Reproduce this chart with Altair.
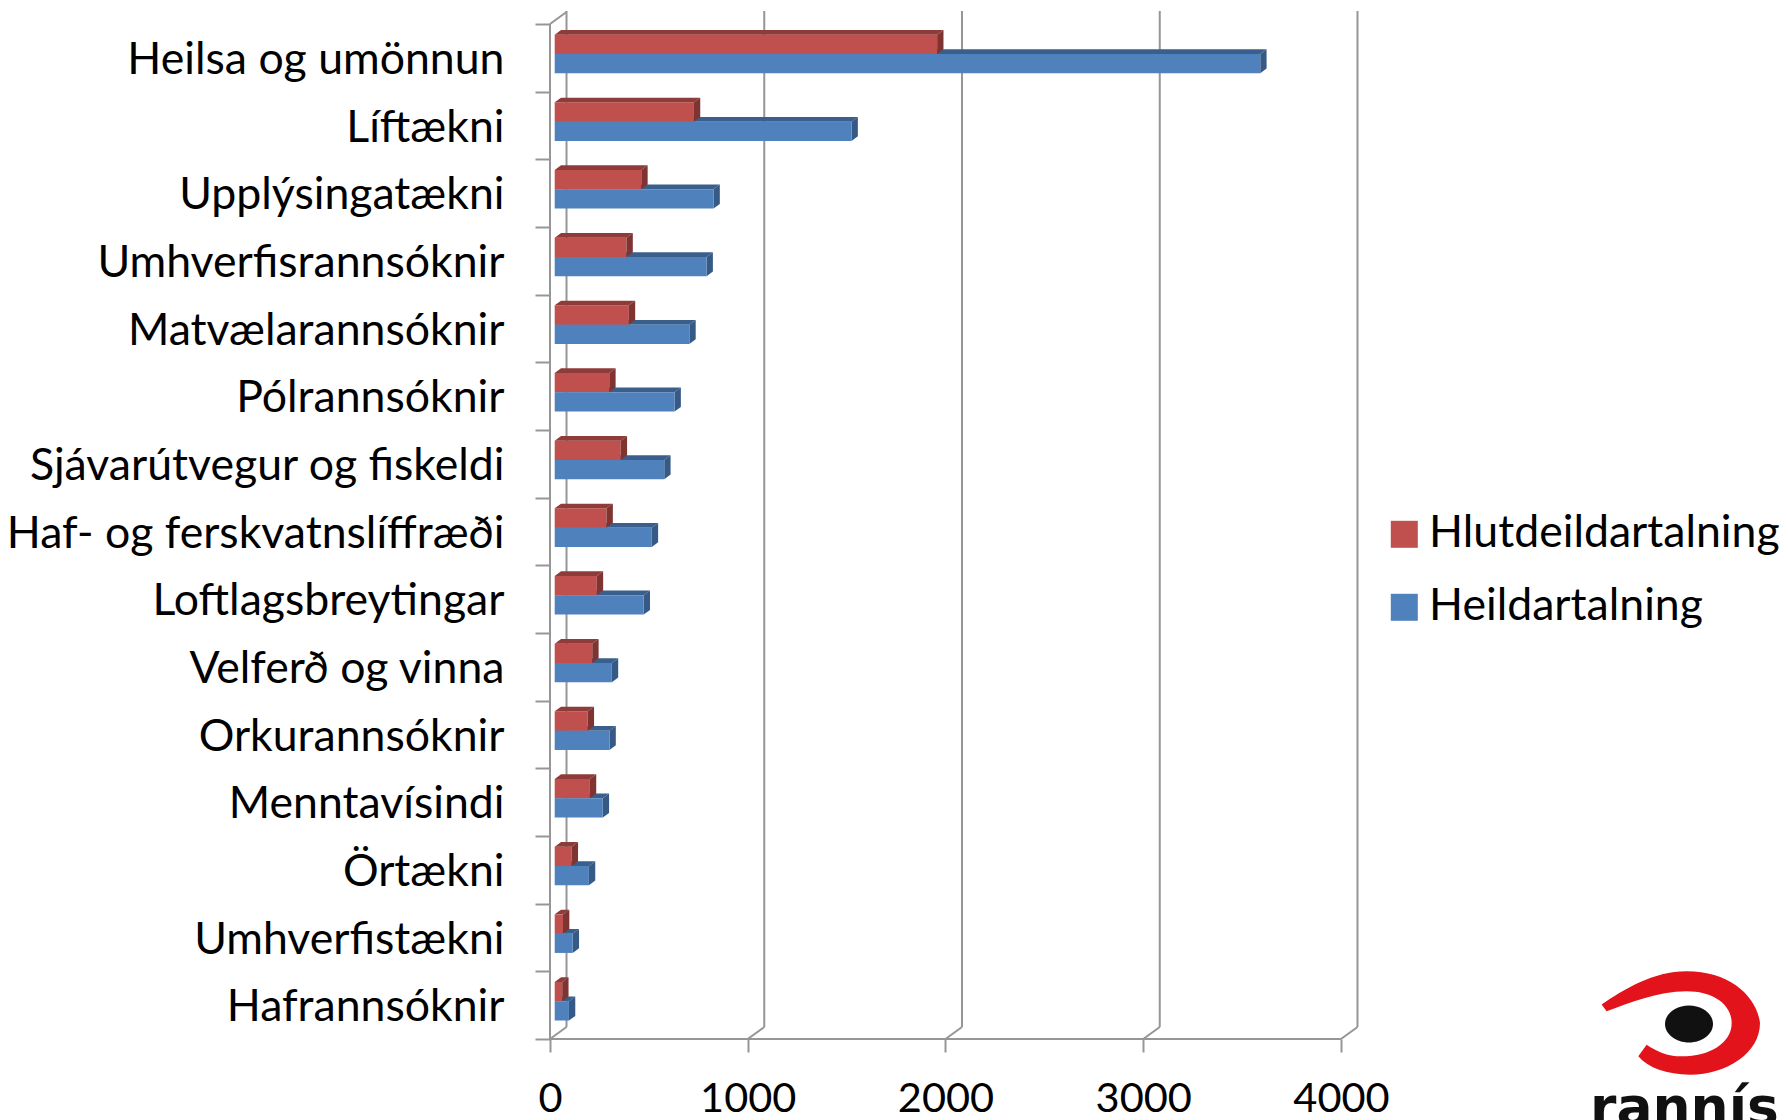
import altair as alt
import pandas as pd

categories = ["Heilsa og umönnun", "Líftækni", "Upplýsingatækni", "Umhverfisrannsóknir",
              "Matvælarannsóknir", "Pólrannsóknir", "Sjávarútvegur og fiskeldi",
              "Haf- og ferskvatnslíffræði", "Loftlagsbreytingar", "Velferð og vinna",
              "Orkurannsóknir", "Menntavísindi", "Örtækni", "Umhverfistækni", "Hafrannsóknir"]
hlutdeild = [1934, 704, 438, 363, 375, 276, 334, 262, 213, 190, 167, 178, 86, 42, 38]
heild = [3568, 1501, 803, 768, 681, 606, 554, 491, 450, 289, 277, 243, 173, 91, 72]
x_ticks = [0, 1000, 2000, 3000, 4000]
series = ["Hlutdeildartalning", "Heildartalning"]

FONT = "Lato"
FS = 41.5
GRID = "#969696"
X_MAX = 4081
WALL_X, WALL_Y = 83.5, 0.177
BASE = 23.8
DX, DY = 32, 0.0695
Y_TOP = -0.192

rects, faces = [], []
for i, cat in enumerate(categories):
    for name, v, y0, y1 in ((series[0], hlutdeild[i], i + .158, i + .443),
                            (series[1], heild[i], i + .443, i + .728)):
        x0, x1 = BASE, BASE + v
        rects.append(dict(cat=cat, series=name, x=x0, x2=x1, y=y0, y2=y1, value=v))
        key = f"{i}-{name}"
        for px, a, b in ((x0, y0, y0), (x0 + DX, y0 - DY, y0), (x1, y0 - DY, y0), (x1 + DX, y0 - DY, y0 - DY)):
            faces.append(dict(key=key, series=name, face="top", x=px, y=a, y2=b))
        for px, a, b in ((x1, y0, y1), (x1 + DX, y0 - DY, y1 - DY)):
            faces.append(dict(key=key, series=name, face="side", x=px, y=a, y2=b))
rects = pd.DataFrame(rects)
faces = pd.DataFrame(faces)

xs = alt.Scale(domain=[0, X_MAX], nice=False, zero=False)
ys = alt.Scale(domain=[15, Y_TOP], nice=False, zero=False)
X = lambda f, **k: alt.X(f, type="quantitative", scale=xs, **k)
Y = lambda f, **k: alt.Y(f, type="quantitative", scale=ys, **k)

walls = pd.DataFrame(
    [dict(x=v + WALL_X, x2=v + WALL_X, y=Y_TOP + 0.0, y2=15 - WALL_Y) for v in x_ticks]
    + [dict(x=0, x2=0, y=0, y2=15), dict(x=0, x2=4000, y=15, y2=15)]
    + [dict(x=v, x2=v + WALL_X, y=15, y2=15 - WALL_Y) for v in x_ticks]
    + [dict(x=0, x2=WALL_X, y=0, y2=-WALL_Y)]
)
wall_layer = alt.Chart(walls).mark_rule(color=GRID, strokeWidth=2).encode(
    x=X("x",
        axis=alt.Axis(values=x_ticks, title=None, grid=False, domain=False, tickSize=13,
                      tickColor=GRID, tickWidth=2, labelFont=FONT, labelFontSize=FS,
                      labelColor="black", labelPadding=26, labelFlush=False,
                      labelOverlap=False, format="d")),
    x2="x2",
    y=Y("y",
        axis=alt.Axis(values=list(range(16)), title=None, grid=False, domain=False,
                      tickSize=15, tickColor=GRID, tickWidth=2, labelFont=FONT,
                      labelFontSize=44.6, labelColor="black", labelPadding=31,
                      labelOffset=36.5, labelOverlap=False, labelFlush=False, labelLimit=700,
                      labelExpr="datum.value < 15 ? " + str(categories) + "[datum.value] : ''")),
    y2="y2",
)


def face(name, kind, color):
    d = faces[(faces.series == name) & (faces.face == kind)]
    return alt.Chart(d).mark_area(color=color, orient="vertical", opacity=1).encode(
        x=X("x"), y=Y("y", stack=None), y2="y2", detail="key:N")


bars = alt.Chart(rects).mark_rect().encode(
    x=X("x"), x2="x2", y=Y("y"), y2="y2",
    color=alt.Color("series:N",
                    scale=alt.Scale(domain=series, range=["#C0504D", "#4F81BD"]),
                    legend=alt.Legend(title=None, orient="none", legendX=832, legendY=501,
                                      symbolType="square", symbolSize=729, symbolStrokeWidth=0,
                                      labelFont=FONT, labelFontSize=44.6, labelColor="black",
                                      labelLimit=500, rowPadding=28, labelOffset=2.5,
                                      symbolOpacity=1)),
)

ox, oy = 550, 11
swoosh = ("M -.98 -.23 C -.708 -.417 -.333 -.646 .083 -.646 C .625 -.646 .958 -.333 1 0 "
          "C 1 .375 .583 .646 .125 .646 C -.167 .646 -.396 .5625 -.521 .417 L -.417 .271 "
          "C -.292 .354 -.167 .417 .021 .417 C .375 .417 .646 .25 .646 0 "
          "C .646 -.229 .417 -.396 .083 -.396 C -.292 -.396 -.625 -.25 -.917 -.146 Z")
pupil = ("M -1 0 C -1 -.42 -.55 -.77 0 -.77 C .55 -.77 1 -.42 1 0 "
         "C 1 .42 .55 .77 0 .77 C -.55 .77 -1 .42 -1 0 Z")
one = alt.Data(values=[{"a": 1}])
logo_a = alt.Chart(one).mark_point(shape=swoosh, size=25600, filled=True, color="#E2131B", opacity=1).encode(
    x=alt.value(1680 - ox), y=alt.value(1023 - oy))
logo_b = alt.Chart(one).mark_point(shape=pupil, size=2304, filled=True, color="#111111", opacity=1).encode(
    x=alt.value(1689 - ox), y=alt.value(1024 - oy))
logo_c = alt.Chart(one).mark_text(text="rannís", font="DejaVu Sans", fontWeight="bold", fontSize=53.5,
                                  align="left", baseline="alphabetic", color="#111111").encode(
    x=alt.value(1590 - ox), y=alt.value(1125 - oy))

chart = alt.layer(
    wall_layer,
    face(series[1], "top", "#3A5F8C"), face(series[1], "side", "#365A85"),
    bars,
    face(series[0], "top", "#8F3B39"), face(series[0], "side", "#7F3432"),
    logo_a, logo_b, logo_c,
).properties(
    width=807, height=1028,
    autosize=alt.AutoSizeParams(type="none"),
    padding={"left": 542, "top": 3, "right": 423, "bottom": 81},
    background="white",
).configure_view(stroke=None)

chart.save("out.html", embed_options={"renderer": "svg", "actions": False})
